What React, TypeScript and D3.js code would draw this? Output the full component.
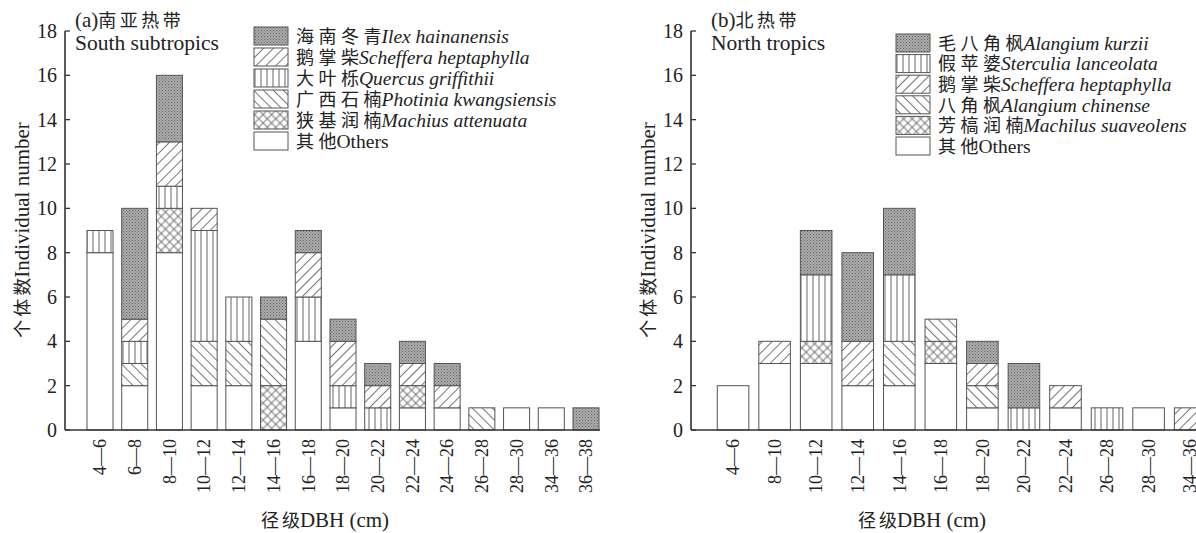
import React from "react";
import * as d3 from "d3";

// ---------- data ----------
const yTicks = [0, 2, 4, 6, 8, 10, 12, 14, 16, 18];

const leftCats = ["4—6", "6—8", "8—10", "10—12", "12—14", "14—16", "16—18", "18—20", "20—22", "22—24", "24—26", "26—28", "28—30", "34—36", "36—38"];
const leftOthers = [8, 2, 8, 2, 2, 0, 4, 1, 0, 1, 1, 0, 1, 1, 0];
const leftMachius = [0, 0, 2, 0, 0, 2, 0, 0, 0, 1, 0, 0, 0, 0, 0];
const leftPhotinia = [0, 1, 0, 2, 2, 3, 0, 0, 0, 0, 0, 1, 0, 0, 0];
const leftQuercus = [1, 1, 1, 5, 2, 0, 2, 1, 1, 0, 0, 0, 0, 0, 0];
const leftScheffera = [0, 1, 2, 1, 0, 0, 2, 2, 1, 1, 1, 0, 0, 0, 0];
const leftIlex = [0, 5, 3, 0, 0, 1, 1, 1, 1, 1, 1, 0, 0, 0, 1];

const rightCats = ["4—6", "8—10", "10—12", "12—14", "14—16", "16—18", "18—20", "20—22", "22—24", "26—28", "28—30", "34—36"];
const rightOthers = [2, 3, 3, 2, 2, 3, 1, 0, 1, 0, 1, 0];
const rightMachilus = [0, 0, 1, 0, 0, 1, 0, 0, 0, 0, 0, 0];
const rightChinense = [0, 0, 0, 0, 2, 1, 1, 0, 0, 0, 0, 0];
const rightScheffera = [0, 1, 0, 2, 0, 0, 1, 0, 1, 0, 0, 1];
const rightSterculia = [0, 0, 3, 0, 3, 0, 0, 1, 0, 1, 0, 0];
const rightKurzii = [0, 0, 2, 4, 3, 0, 1, 2, 0, 0, 0, 0];

const leftSeries = [
  { cn: "其他", latin: "Others", italic: false, values: leftOthers, pat: "none" },
  { cn: "狭基润楠", latin: "Machius attenuata", italic: true, values: leftMachius, pat: "cross" },
  { cn: "广西石楠", latin: "Photinia kwangsiensis", italic: true, values: leftPhotinia, pat: "back" },
  { cn: "大叶栎", latin: "Quercus griffithii", italic: true, values: leftQuercus, pat: "vert" },
  { cn: "鹅掌柴", latin: "Scheffera heptaphylla", italic: true, values: leftScheffera, pat: "fwd" },
  { cn: "海南冬青", latin: "Ilex hainanensis", italic: true, values: leftIlex, pat: "dark" },
];
const rightSeries = [
  { cn: "其他", latin: "Others", italic: false, values: rightOthers, pat: "none" },
  { cn: "芳槁润楠", latin: "Machilus suaveolens", italic: true, values: rightMachilus, pat: "cross" },
  { cn: "八角枫", latin: "Alangium chinense", italic: true, values: rightChinense, pat: "back" },
  { cn: "鹅掌柴", latin: "Scheffera heptaphylla", italic: true, values: rightScheffera, pat: "fwd" },
  { cn: "假苹婆", latin: "Sterculia lanceolata", italic: true, values: rightSterculia, pat: "vert" },
  { cn: "毛八角枫", latin: "Alangium kurzii", italic: true, values: rightKurzii, pat: "dark" },
];

const FONT = "'Liberation Serif', 'Times New Roman', serif";
const CJK = "'Noto Sans CJK SC', sans-serif";
const STROKE = "#555";
const TXT = "#222";

function fillFor(p: string) {
  return p === "none" ? "#fff" : `url(#pat-${p})`;
}

// CJK run with letter spacing between characters only (no trailing gap)
function Cjk({ text, size, ls }: { text: string; size: number; ls: number }) {
  const head = text.slice(0, -1);
  const last = text.slice(-1);
  return (
    <>
      {head ? (
        <tspan fontFamily={CJK} fontSize={size} letterSpacing={ls}>
          {head}
        </tspan>
      ) : null}
      <tspan fontFamily={CJK} fontSize={size} letterSpacing={0}>
        {last}
      </tspan>
    </>
  );
}

function Defs() {
  const lc = "#666";
  return (
    <defs>
      <pattern id="pat-dark" patternUnits="userSpaceOnUse" width="3" height="3">
        <rect width="3" height="3" fill="#ababab" />
        <rect x="0" y="0" width="1" height="1" fill="#666" />
        <rect x="1.5" y="1.5" width="1" height="1" fill="#777" />
      </pattern>
      <pattern id="pat-vert" patternUnits="userSpaceOnUse" width="6" height="6">
        <rect width="6" height="6" fill="#fff" />
        <line x1="3" y1="0" x2="3" y2="6" stroke={lc} strokeWidth="1" />
      </pattern>
      <pattern id="pat-fwd" patternUnits="userSpaceOnUse" width="7" height="7" patternTransform="rotate(45)">
        <rect width="7" height="7" fill="#fff" />
        <line x1="3.5" y1="0" x2="3.5" y2="7" stroke={lc} strokeWidth="0.9" />
      </pattern>
      <pattern id="pat-back" patternUnits="userSpaceOnUse" width="7" height="7" patternTransform="rotate(-45)">
        <rect width="7" height="7" fill="#fff" />
        <line x1="3.5" y1="0" x2="3.5" y2="7" stroke={lc} strokeWidth="0.9" />
      </pattern>
      <pattern id="pat-cross" patternUnits="userSpaceOnUse" width="6" height="6" patternTransform="rotate(45)">
        <rect width="6" height="6" fill="#fff" />
        <line x1="3" y1="0" x2="3" y2="6" stroke={lc} strokeWidth="0.9" />
        <line x1="0" y1="3" x2="6" y2="3" stroke={lc} strokeWidth="0.9" />
      </pattern>
    </defs>
  );
}

type Series = { cn: string; latin: string; italic: boolean; values: number[]; pat: string };

function Panel(props: {
  cats: string[];
  series: Series[];
  axisX: number;
  axisEnd: number;
  bandRange: [number, number];
  padding: number;
  titlePre: string;
  titleCn: string;
  titleEn: string;
  titleX: number;
  yTitleX: number;
  xTitleX: number;
  legendX: number;
  legendY: number;
  legendStep: number;
}) {
  const { cats, series, axisX, axisEnd, bandRange, padding } = props;
  const y = d3.scaleLinear().domain([0, 18]).range([430, 31]);
  const x = d3.scaleBand<string>().domain(cats).range(bandRange).paddingInner(padding).paddingOuter(padding);
  const table = cats.map((c, i) => {
    const row: any = { cat: c };
    series.forEach((s, k) => (row["s" + k] = s.values[i]));
    return row;
  });
  const stacked = d3.stack<any>().keys(series.map((_, k) => "s" + k))(table);
  const legendOrder = [...series].reverse();
  return (
    <g fontFamily={FONT}>
      {stacked.map((layer, k) => (
        <g key={k}>
          {layer.map((d, i) =>
            d[1] - d[0] > 0 ? (
              <rect
                key={i}
                x={x(cats[i])}
                y={y(d[1])}
                width={x.bandwidth()}
                height={y(d[0]) - y(d[1])}
                fill={fillFor(series[k].pat)}
                stroke={STROKE}
                strokeWidth={1}
              />
            ) : null
          )}
        </g>
      ))}
      {/* y axis */}
      <line x1={axisX} x2={axisX} y1={y(0)} y2={y(18)} stroke="#333" strokeWidth={1.6} />
      {yTicks.map((t) => (
        <g key={t}>
          <line x1={axisX} x2={axisX + 5} y1={y(t)} y2={y(t)} stroke="#333" strokeWidth={1.3} />
          <text x={axisX - 8} y={y(t)} dy="0.35em" textAnchor="end" fontSize={20} fill={TXT}>
            {t}
          </text>
        </g>
      ))}
      {/* x axis */}
      <line x1={axisX} x2={axisEnd} y1={y(0)} y2={y(0)} stroke="#333" strokeWidth={1.6} />
      {cats.map((c) => (
        <text
          key={c}
          transform={`translate(${(x(c) as number) + x.bandwidth() / 2},${y(0) + 9}) rotate(-90)`}
          textAnchor="end"
          dy="0.35em"
          fontSize={18}
          fill={TXT}
        >
          {c}
        </text>
      ))}
      {/* axis titles */}
      <text
        transform={`translate(${props.yTitleX},230) rotate(-90)`}
        textAnchor="middle"
        dy="0.35em"
        fontSize={21}
        fill={TXT}
      >
        <Cjk text="个体数" size={18} ls={3} />
        <tspan>Individual number</tspan>
      </text>
      <text x={props.xTitleX} y={527} textAnchor="middle" fontSize={21} fill={TXT}>
        <Cjk text="径级" size={18} ls={3} />
        <tspan>DBH (cm)</tspan>
      </text>
      {/* panel title */}
      <text x={props.titleX} y={27} fontSize={21} fill={TXT}>
        <tspan>{props.titlePre}</tspan>
        <Cjk text={props.titleCn} size={18} ls={3.5} />
      </text>
      <text x={props.titleX} y={50} fontSize={21.5} fill={TXT}>
        {props.titleEn}
      </text>
      {/* legend */}
      {legendOrder.map((s, i) => {
        const ly = props.legendY + i * props.legendStep;
        return (
          <g key={i}>
            <rect
              x={props.legendX}
              y={ly - 9}
              width={34}
              height={18}
              fill={fillFor(s.pat)}
              stroke={STROKE}
              strokeWidth={1}
            />
            <text x={props.legendX + 42} y={ly} dy="0.35em" fontSize={19.5} fill={TXT}>
              <Cjk text={s.cn} size={18} ls={4.5} />
              <tspan fontStyle={s.italic ? "italic" : "normal"}>{s.latin}</tspan>
            </text>
          </g>
        );
      })}
    </g>
  );
}

export default function App() {
  return (
    <div style={{ position: "absolute", left: 0, top: 0 }}>
      <svg width={1196} height={533} style={{ display: "block", background: "#fff" }}>
        <Defs />
        <Panel
          cats={leftCats}
          series={leftSeries}
          axisX={65}
          axisEnd={600}
          bandRange={[78.3, 607.7]}
          padding={0.25}
          titlePre="(a)"
          titleCn="南亚热带"
          titleEn="South subtropics"
          titleX={75}
          yTitleX={22}
          xTitleX={325}
          legendX={254}
          legendY={36}
          legendStep={21}
        />
        <Panel
          cats={rightCats}
          series={rightSeries}
          axisX={691}
          axisEnd={1196}
          bandRange={[707.3, 1215.9]}
          padding={0.24}
          titlePre="(b)"
          titleCn="北热带"
          titleEn="North tropics"
          titleX={711}
          yTitleX={648}
          xTitleX={922}
          legendX={896}
          legendY={43}
          legendStep={20.6}
        />
      </svg>
    </div>
  );
}
